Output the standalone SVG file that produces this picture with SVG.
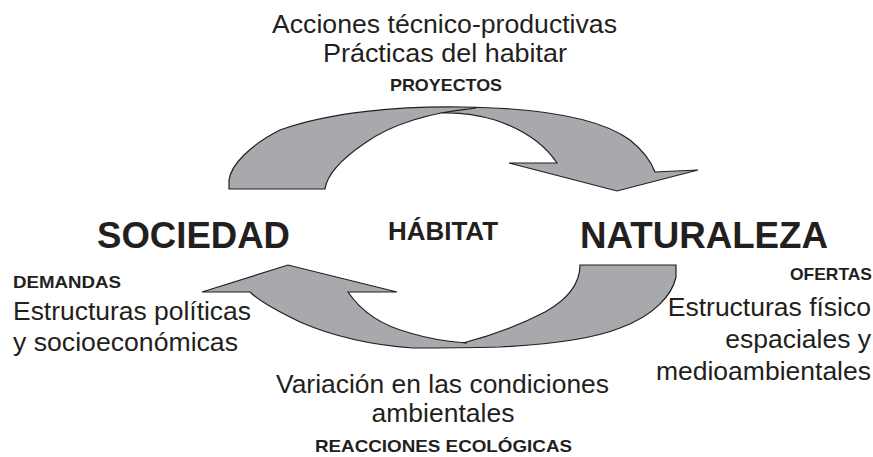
<svg xmlns="http://www.w3.org/2000/svg" width="873" height="457" viewBox="0 0 873 457">
<style>
text{font-family:"Liberation Sans",Arial,sans-serif;fill:#231f20}
.n{font-size:26.5px}
.b{font-weight:bold;font-size:17px}
.big{font-weight:bold;font-size:37px}
.arrow{fill:#a7a9ac;stroke:#231f20;stroke-width:1.2;stroke-linejoin:miter}
</style>
<rect width="873" height="457" fill="#fff"/>
<g id="connectors">
<path id="arrow-top" class="arrow" d="M229,189 L229,180 C231,165 250,145 280,130 C330,112 400,106 463,107 C540,108 600,118 630,140 C645,152 652,164 655,172 L698,170 L617,191 L509,163 L557,163 C545,145 525,130 495,120 C475,114 460,112 440,113 L476,108 C430,112 390,125 365,143 C340,160 327,175 325,189 Z"/>
<path id="arrow-bottom" class="arrow" d="M580,265 L676,265 L676,277 C672,295 655,315 620,328 C590,340 540,345 500,347 C460,348 430,348 413,348 C370,345 330,335 300,322 C275,310 258,300 250,292 L202,292 L288,265 L397,292 L348,292 C360,310 380,325 410,333 C430,339 450,342 467,343 L463,343 C490,336 520,325 545,312 C570,298 580,282 580,265 Z"/>
</g>
<g id="top-label">
<text class="n" x="272" y="33" textLength="345" lengthAdjust="spacingAndGlyphs">Acciones técnico-productivas</text>
<text class="n" x="323" y="62" textLength="244" lengthAdjust="spacingAndGlyphs">Prácticas del habitar</text>
<text class="b" x="390" y="91" textLength="112" lengthAdjust="spacingAndGlyphs">PROYECTOS</text>
</g>
<g id="sociedad">
<text class="big" x="97" y="248" textLength="193" lengthAdjust="spacingAndGlyphs">SOCIEDAD</text>
<text class="b" x="13" y="288" textLength="108" lengthAdjust="spacingAndGlyphs">DEMANDAS</text>
<text class="n" x="13" y="320" textLength="238" lengthAdjust="spacingAndGlyphs">Estructuras políticas</text>
<text class="n" x="13" y="351" textLength="225" lengthAdjust="spacingAndGlyphs">y socioeconómicas</text>
</g>
<g id="habitat">
<text x="388" y="240" textLength="110" lengthAdjust="spacingAndGlyphs" style="font-weight:bold;font-size:25px">HÁBITAT</text>
</g>
<g id="naturaleza">
<text class="big" x="580" y="248" textLength="248" lengthAdjust="spacingAndGlyphs">NATURALEZA</text>
<text class="b" x="790" y="280" textLength="82" lengthAdjust="spacingAndGlyphs">OFERTAS</text>
<text class="n" x="871" y="316" text-anchor="end">Estructuras físico</text>
<text class="n" x="871" y="348" text-anchor="end">espaciales y</text>
<text class="n" x="871" y="380" text-anchor="end">medioambientales</text>
</g>
<g id="bottom-label">
<text class="n" x="276" y="393" textLength="333" lengthAdjust="spacingAndGlyphs">Variación en las condiciones</text>
<text class="n" x="443" y="422" text-anchor="middle">ambientales</text>
<text class="b" x="315" y="452" textLength="257" lengthAdjust="spacingAndGlyphs">REACCIONES ECOLÓGICAS</text>
</g>
</svg>
